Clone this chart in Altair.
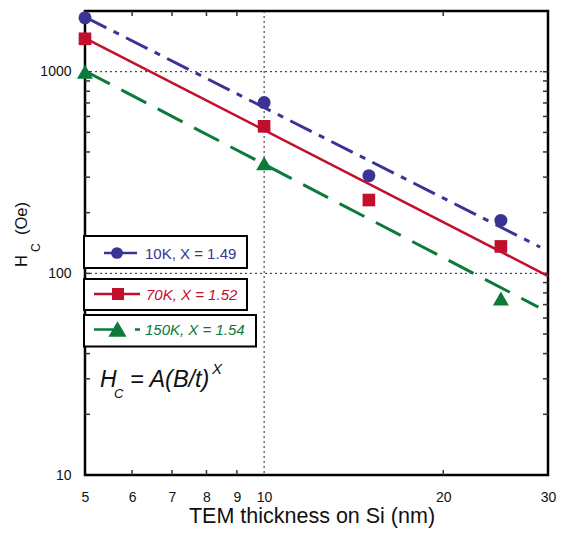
import altair as alt
import pandas as pd

# ---------------- data ----------------
thickness = [5, 10, 15, 25]
hc_10K = [1850, 703, 305, 183]
hc_70K = [1456, 536, 231, 136]
thickness_150K = [5, 10, 25]
hc_150K = [1000, 351, 75]

fit_t_10K = [5, 29.1]
fit_hc_10K = [1868, 135]
fit_t_70K = [5, 30]
fit_hc_70K = [1468, 97]
fit_t_150K = [5, 28.9]
fit_hc_150K = [1008, 68]

x_labels = [5, 6, 7, 8, 9, 10, 20, 30]
y_labels = [10, 100, 1000]
x_minor = [6, 7, 8, 9, 20]
y_minor = [20, 30, 40, 50, 60, 70, 80, 90, 100, 200, 300, 400, 500, 600, 700, 800, 900, 1000]
grid_x = [10]
grid_y = [100, 1000]

legend_labels = ["10K, X = 1.49", "70K, X = 1.52", "150K, X = 1.54"]

# ---------------- styling ----------------
W, H = 463, 464
FONT = "Liberation Sans"
BLUE = "#3b3494"
RED = "#c10f2c"
GREEN = "#0b7a3a"
INK = "#111111"

xs = alt.Scale(type="log", domain=[5, 30], nice=False)
ys = alt.Scale(type="log", domain=[10, 2000], nice=False)
one = pd.DataFrame({"a": [0]})

xaxis = alt.Axis(values=x_labels, title="TEM thickness on Si (nm)", grid=False, ticks=False,
                 tickSize=0, domain=False, labelFontSize=14, labelPadding=15, labelFont=FONT,
                 labelColor=INK, titleFont=FONT, titleFontSize=21.5, titleFontWeight="normal",
                 titleColor=INK, titleBaseline="alphabetic", titleAlign="center",
                 titleX=226.5, titleY=47, format="d", labelOverlap=False, labelFlush=False)
yaxis = alt.Axis(values=y_labels, title="", grid=False, ticks=False, tickSize=0, domain=False,
                 labelFontSize=14, labelPadding=14, labelFont=FONT, labelColor=INK, format="d",
                 labelOverlap=False, labelFlush=False)


def X():
    return alt.X("t:Q", scale=xs, axis=xaxis)


def Y():
    return alt.Y("hc:Q", scale=ys, axis=yaxis)


def df_xy(t, v):
    return pd.DataFrame({"t": t, "hc": v})


# grid
grid_v = alt.Chart(pd.DataFrame({"t": grid_x})).mark_rule(
    color="#222", strokeWidth=1, strokeDash=[2, 3]).encode(
    x=X(), y=alt.value(0), y2=alt.value(H))
grid_h = alt.Chart(pd.DataFrame({"hc": grid_y})).mark_rule(
    color="#222", strokeWidth=1, strokeDash=[2, 3]).encode(
    y=Y(), x=alt.value(0), x2=alt.value(W))

# inward minor ticks
tk = dict(color="#333", strokeWidth=1.5)
ydf = pd.DataFrame({"hc": y_minor})
xdf = pd.DataFrame({"t": x_minor})
tick_l = alt.Chart(ydf).mark_rule(**tk).encode(y=Y(), x=alt.value(0), x2=alt.value(5))
tick_r = alt.Chart(ydf).mark_rule(**tk).encode(y=Y(), x=alt.value(W - 5), x2=alt.value(W))
tick_t = alt.Chart(xdf).mark_rule(**tk).encode(x=X(), y=alt.value(0), y2=alt.value(5))
tick_b = alt.Chart(xdf).mark_rule(**tk).encode(x=X(), y=alt.value(H - 5), y2=alt.value(H))


# fit lines
def fit(t, v, color, dash, width):
    kw = dict(color=color, strokeWidth=width)
    if dash:
        kw["strokeDash"] = dash
    return alt.Chart(df_xy(t, v)).mark_line(**kw).encode(x=X(), y=Y())


fit_b = fit(fit_t_10K, fit_hc_10K, BLUE, [24, 8, 6, 8], 3)
fit_r = fit(fit_t_70K, fit_hc_70K, RED, None, 2.5)
fit_g = fit(fit_t_150K, fit_hc_150K, GREEN, [28, 13], 3)

# data points
pts_b = alt.Chart(df_xy(thickness, hc_10K)).mark_point(
    shape="circle", filled=True, size=169, color=BLUE, opacity=1).encode(x=X(), y=Y())
pts_r = alt.Chart(df_xy(thickness, hc_70K)).mark_point(
    shape="square", filled=True, size=160, color=RED, opacity=1).encode(x=X(), y=Y())
pts_g = alt.Chart(df_xy(thickness_150K, hc_150K)).mark_point(
    shape="triangle-up", filled=True, size=256, color=GREEN, opacity=1).encode(x=X(), y=Y())


# legend boxes and annotations
def box(x1, x2, y1, y2):
    return alt.Chart(one).mark_rect(fill="white", stroke="black", strokeWidth=2).encode(
        x=alt.value(x1), x2=alt.value(x2), y=alt.value(y1), y2=alt.value(y2))


def seg(x1, x2, y, color):
    return alt.Chart(one).mark_rule(color=color, strokeWidth=2.5).encode(
        x=alt.value(x1), x2=alt.value(x2), y=alt.value(y))


def sym(x, y, shape, size, color):
    return alt.Chart(one).mark_point(shape=shape, filled=True, size=size, color=color,
                                     opacity=1).encode(x=alt.value(x), y=alt.value(y))


def txt(x, y, s, size, color, italic=False, angle=0):
    kw = dict(align="left", baseline="alphabetic", font=FONT, fontSize=size, color=color)
    if italic:
        kw["fontStyle"] = "italic"
    if angle:
        kw["angle"] = angle
    return alt.Chart(one).mark_text(**kw).encode(
        x=alt.value(x), y=alt.value(y), text=alt.value(s))


legend = [
    box(-1, 162, 225, 257),
    seg(19, 52, 242, BLUE), sym(32, 242, "circle", 137, BLUE),
    txt(60, 247.5, legend_labels[0], 15, BLUE),
    box(-1, 162, 268, 299),
    seg(9, 55, 283, RED), sym(33, 283, "square", 144, RED),
    txt(61, 288.5, legend_labels[1], 15, RED, italic=True),
    box(-1, 171, 304, 335.5),
    seg(9, 28, 318.5, GREEN), seg(50, 55, 318.5, GREEN),
    sym(32.5, 318, "triangle-up", 330, GREEN),
    txt(60, 324, legend_labels[2], 15, GREEN, italic=True),
]

formula = [
    txt(15, 375.7, "H", 23, INK, italic=True),
    txt(29, 387.3, "C", 13, INK, italic=True),
    txt(45, 375.7, "= A(B/t)", 23.5, INK, italic=True),
    txt(127, 363, "X", 15, INK, italic=True),
]

ytitle = [
    txt(-58.3, 256, "H", 16.5, INK, angle=270),
    txt(-45, 241, "C", 12, INK, angle=270),
    txt(-58.3, 224, "(Oe)", 16.5, INK, angle=270),
]

chart = alt.layer(
    grid_v, grid_h, tick_l, tick_r, tick_t, tick_b,
    fit_b, fit_r, fit_g, pts_b, pts_r, pts_g,
    *legend, *formula, *ytitle
).properties(
    width=W, height=H, autosize="none",
    padding={"left": 85, "top": 11, "right": 29, "bottom": 62},
).configure_view(stroke="black", strokeWidth=2.5)

chart.save("out.html", embed_options={"renderer": "svg", "actions": False})
